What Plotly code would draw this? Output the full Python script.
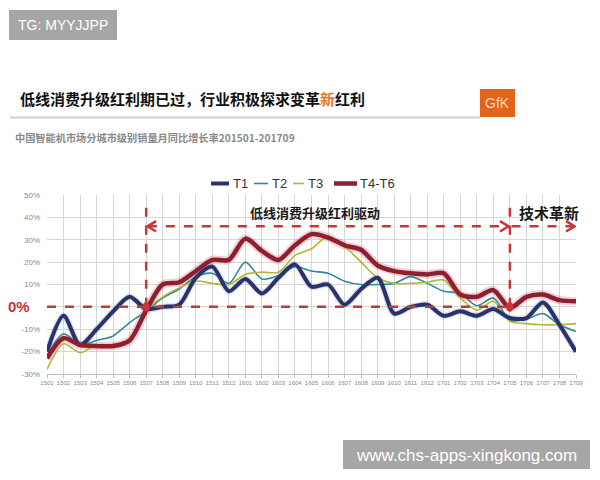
import plotly.graph_objects as go

# ---------------- data ----------------
months = ["1501", "1502", "1503", "1504", "1505", "1506", "1507", "1508", "1509", "1510", "1511", "1512",
          "1601", "1602", "1603", "1604", "1605", "1606", "1607", "1608", "1609", "1610", "1611", "1612",
          "1701", "1702", "1703", "1704", "1705", "1706", "1707", "1708", "1709"]

t1 = [-20, -4, -17, -10, -2, 4.5, -1, 0, 1, 13, 18, 7, 12.5, 6, 13, 19,
      9, 10, 1, 8, 13, -3, 0, 1, -4, -2, -4, -1, -5, -5, 2, -8, -20]
t2 = [-22, -12, -17, -15, -13, -7, -2, 4, 8, 13.5, 15, 10.5, 20, 12.5, 14, 18,
      16, 15, 11.5, 10, 10, 10.5, 13.5, 10.5, 7, 6, 0.5, 4, -6, -5.5, -3, -8, -11]
t3 = [-28, -16.5, -20.5, -17, -17, -15, -1.5, 4.5, 8.5, 11.5, 10.5, 10, 14.5, 15.5, 15.5, 23,
      26, 31.5, 27, 20, 13, 10.5, 10.5, 11, 12, 4, -1.5, 2.5, -6.5, -7.5, -8, -8, -7.5]
t46 = [-23, -14, -17, -17.5, -17.5, -15, -1.5, 10, 11, 16, 21, 21, 30.5, 25, 21, 27.5,
       32.5, 31, 27.5, 25.5, 18.5, 16, 15, 14.5, 15, 5.5, 4.5, 7.5, -0.5, 4.5, 5.5, 3, 2.5]

series_names = ["T1", "T2", "T3", "T4-T6"]
y_ticks = [-30, -20, -10, 0, 10, 20, 30, 40, 50]
y_ticktext = ["-30%", "-20%", "-10%", "", "10%", "20%", "30%", "40%", "50%"]

title_main = "低线消费升级红利期已过，行业积极探求变革<span style='color:#e8772e'>新</span>红利"
subtitle = "中国智能机市场分城市级别销量月同比增长率201501-201709"
phase1_label = "低线消费升级红利驱动"
phase2_label = "技术革新"

# ---------------- layout geometry (page pixels; page body has an 8px margin) ----------------
OFF = 8
W, H = 600 - OFF, 480 - OFF
L, R, T, B = 47, 576, 195, 374  # plot area in page pixels


def px(x):
    return (x - L) / (R - L)


def py(y):
    return (B - y) / (B - T)


xs = list(range(len(months)))

C_T1 = "#29326a"
C_T2 = "#2f8a9a"
C_T3 = "#b3b63a"
C_T4 = "#8e1f30"
RED = "#c9363a"
CJK = "Noto Sans CJK SC"
LAT = "Liberation Sans"

fig = go.Figure()

# glow under-layers
fig.add_trace(go.Scatter(x=xs, y=t46, mode="lines", line=dict(color="rgba(205,90,100,0.28)", width=8.5, shape="spline", smoothing=0.8),
                         hoverinfo="skip", showlegend=False))
fig.add_trace(go.Scatter(x=xs, y=t1, mode="lines", line=dict(color="rgba(90,120,170,0.22)", width=6.5, shape="spline", smoothing=0.8),
                         hoverinfo="skip", showlegend=False))

fig.add_trace(go.Scatter(x=xs, y=t2, name=series_names[1], mode="lines",
                         line=dict(color=C_T2, width=1.6, shape="spline", smoothing=0.8), showlegend=False))
fig.add_trace(go.Scatter(x=xs, y=t3, name=series_names[2], mode="lines",
                         line=dict(color=C_T3, width=1.6, shape="spline", smoothing=0.8), showlegend=False))
fig.add_trace(go.Scatter(x=xs, y=t1, name=series_names[0], mode="lines",
                         line=dict(color=C_T1, width=4, shape="spline", smoothing=0.8), showlegend=False))
fig.add_trace(go.Scatter(x=xs, y=t46, name=series_names[3], mode="lines",
                         line=dict(color=C_T4, width=4.5, shape="spline", smoothing=0.8), showlegend=False))

shapes = []
ann = []


def text(xv, yv, s, font, xref="paper", yref="paper", xanchor="center"):
    ann.append(dict(x=xv, y=yv, xref=xref, yref=yref, text=s, showarrow=False,
                    xanchor=xanchor, yanchor="middle", font=font))


# red dashed guides (data coords)
dash = dict(color=RED, width=2.5, dash="dash")
shapes.append(dict(type="line", xref="x", yref="y", x0=0, x1=28, y0=0, y1=0, line=dash))
shapes.append(dict(type="line", xref="x", yref="y", x0=6, x1=6, y0=0, y1=45.5, line=dash))
shapes.append(dict(type="line", xref="x", yref="y", x0=28, x1=28, y0=0, y1=46, line=dash))
shapes.append(dict(type="line", xref="x", yref="y", x0=6.1, x1=27.9, y0=36, y1=36, line=dash))
shapes.append(dict(type="line", xref="x", yref="y", x0=28.1, x1=31.9, y0=36, y1=36, line=dash))
arrow = dict(color=RED, width=2.5)
shapes.append(dict(type="path", xref="x", yref="y", path="M 6.6 38.3 L 6.08 36 L 6.6 33.7", line=arrow))
shapes.append(dict(type="path", xref="x", yref="y", path="M 27.4 38.3 L 27.92 36 L 27.4 33.7", line=arrow))
shapes.append(dict(type="path", xref="x", yref="y", path="M 31.4 38.3 L 31.92 36 L 31.4 33.7", line=arrow))
for xc in (6, 28):
    shapes.append(dict(type="circle", xref="x", yref="y", x0=xc - 0.22, x1=xc + 0.22, y0=-2.2, y1=2.2,
                       fillcolor=RED, line=dict(width=0)))

text(16.2, 42.2, phase1_label, dict(family=CJK, size=13, color="#1a1a1a", weight="bold"), xref="x", yref="y")
text(30.36, 42.4, phase2_label, dict(family=CJK, size=15, color="#1a1a1a", weight="bold"), xref="x", yref="y")
text(px(19), 0, "0%", dict(family=LAT, size=15, color="#d0312d", weight="bold"), yref="y")

# legend (manual)
legend_items = [
    (series_names[0], C_T1, 4, 211, 229, 231),
    (series_names[1], C_T2, 1.6, 254, 268, 270),
    (series_names[2], C_T3, 1.6, 293, 304, 306),
    (series_names[3], C_T4, 4.5, 334, 357, 358),
]
for name, col, w, a, b, tx in legend_items:
    shapes.append(dict(type="line", xref="paper", yref="paper", x0=px(a), x1=px(b), y0=py(183.5), y1=py(183.5),
                       line=dict(color=col, width=w)))
    text(px(tx), py(183.5), name, dict(family=LAT, size=13, color="#333333"), xanchor="left")

# title area
text(px(18), py(98), title_main, dict(family=CJK, size=15, color="#111111", weight="bold"), xanchor="left")
shapes.append(dict(type="line", xref="paper", yref="paper", x0=px(10), x1=px(480), y0=py(117.5), y1=py(117.5),
                   line=dict(color="#cfcfcf", width=2)))
shapes.append(dict(type="rect", xref="paper", yref="paper", x0=px(480), x1=px(515), y0=py(117), y1=py(89),
                   fillcolor="#e5621c", line=dict(width=0)))
text(px(497.5), py(103), "GfK", dict(family=LAT, size=14, color="#fbd9b8"))
text(px(13), py(137), subtitle, dict(family=CJK, size=10.2, color="#8a8a8a", weight="bold"), xanchor="left")

# watermarks
shapes.append(dict(type="rect", xref="paper", yref="paper", x0=px(9), x1=px(117), y0=py(40), y1=py(10),
                   fillcolor="#a6a6a6", line=dict(width=0)))
text(px(63), py(25), "TG: MYYJJPP", dict(family=LAT, size=14, color="#ffffff"))
shapes.append(dict(type="rect", xref="paper", yref="paper", x0=px(343), x1=px(590), y0=py(469), y1=py(440),
                   fillcolor="#a6a6a6", line=dict(width=0)))
text(px(466), py(455), "www.chs-apps-xingkong.com", dict(family=LAT, size=17, color="#ffffff"))

fig.update_layout(
    width=W, height=H, autosize=False,
    margin=dict(l=L - OFF, r=W - (R - OFF), t=T - OFF, b=H - (B - OFF), pad=0),
    paper_bgcolor="white", plot_bgcolor="white",
    shapes=shapes, annotations=ann,
    showlegend=False,
)
fig.update_xaxes(range=[0, 32], tickmode="array", tickvals=xs, ticktext=months,
                 showgrid=True, gridcolor="#d6d6d6", gridwidth=1,
                 showline=True, linecolor="#bdbdbd", linewidth=1,
                 ticks="outside", ticklen=3, tickcolor="#bdbdbd", automargin=False,
                 tickfont=dict(family=LAT, size=6, color="#8a8a8a"), zeroline=False, fixedrange=True)
fig.update_yaxes(range=[-30, 50], tickmode="array", tickvals=y_ticks, ticktext=y_ticktext,
                 showgrid=True, gridcolor="#d6d6d6", gridwidth=1, zeroline=False,
                 ticks="", ticklabelstandoff=6, automargin=False,
                 tickfont=dict(family=LAT, size=8, color="#8a8a8a"), fixedrange=True)

fig.write_html("out.html")
